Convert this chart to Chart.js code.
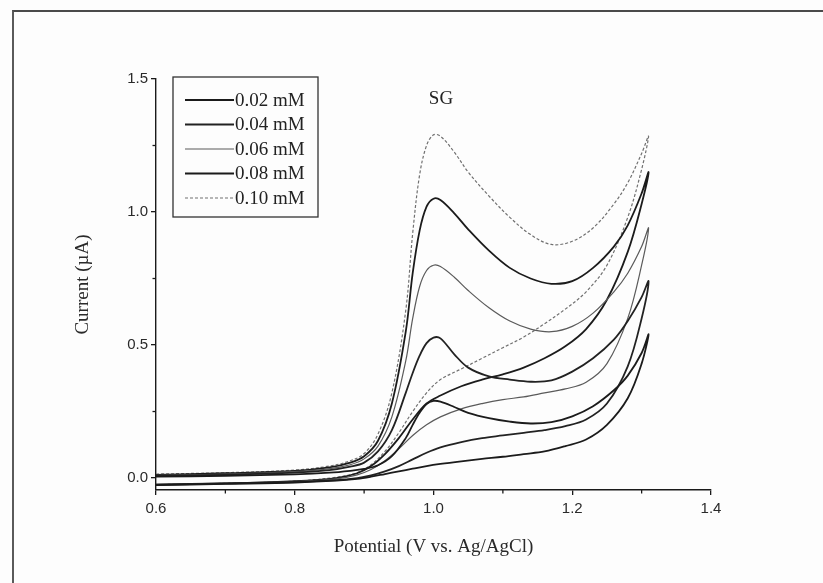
<!DOCTYPE html>
<html>
<head>
<meta charset="utf-8">
<script src="https://cdn.jsdelivr.net/npm/chart.js@4"></script>
<style>
  html, body { margin: 0; padding: 0; background: #ffffff; }
  #wrap { position: relative; width: 823px; height: 583px; overflow: hidden; background: #fdfdfd; }
  #frame { position: absolute; left: 12px; top: 10px; width: 830px; height: 600px;
           border-top: 2px solid #4a4a4a; border-left: 2px solid #5a5a5a; }
  canvas { position: absolute; left: 0; top: 0; }
</style>
</head>
<body>
<div id="wrap">
  <div id="frame"></div>
  <canvas id="c" width="823" height="583"></canvas>
</div>
<script>
// ---- Data ----
const seriesLabels = ["0.02 mM", "0.04 mM", "0.06 mM", "0.08 mM", "0.10 mM"];

// forward (anodic) scan potentials, V vs Ag/AgCl
const potentialFwd = [0.60, 0.70, 0.80, 0.85, 0.88, 0.90, 0.92, 0.94, 0.96, 0.97, 0.98, 0.99, 1.00, 1.01, 1.03, 1.05, 1.08, 1.11, 1.14, 1.17, 1.20, 1.23, 1.26, 1.28, 1.30, 1.31];
// reverse scan potentials
const potentialRev = [1.30, 1.28, 1.25, 1.22, 1.19, 1.16, 1.13, 1.10, 1.07, 1.04, 1.01, 0.99, 0.97, 0.95, 0.93, 0.91, 0.89, 0.86, 0.80, 0.70, 0.60];

// currents (µA), forward scans
const fwd002 = [0.005, 0.008, 0.014, 0.02, 0.027, 0.034, 0.048, 0.082, 0.15, 0.2, 0.245, 0.278, 0.29, 0.287, 0.267, 0.245, 0.225, 0.212, 0.205, 0.21, 0.232, 0.27, 0.33, 0.385, 0.47, 0.54];
const fwd004 = [0.008, 0.012, 0.02, 0.03, 0.043, 0.058, 0.10, 0.18, 0.32, 0.395, 0.46, 0.507, 0.528, 0.525, 0.465, 0.415, 0.382, 0.37, 0.362, 0.367, 0.40, 0.45, 0.52, 0.59, 0.68, 0.74];
const fwd006 = [0.01, 0.015, 0.024, 0.035, 0.05, 0.072, 0.12, 0.23, 0.44, 0.6, 0.72, 0.78, 0.80, 0.795, 0.755, 0.705, 0.64, 0.59, 0.56, 0.55, 0.57, 0.62, 0.70, 0.77, 0.87, 0.94];
const fwd008 = [0.012, 0.018, 0.027, 0.04, 0.058, 0.082, 0.14, 0.28, 0.55, 0.77, 0.93, 1.02, 1.05, 1.045, 0.995, 0.935, 0.855, 0.79, 0.75, 0.73, 0.74, 0.79, 0.87, 0.95, 1.07, 1.15];
const fwd010 = [0.015, 0.02, 0.03, 0.045, 0.065, 0.092, 0.165, 0.32, 0.63, 0.92, 1.14, 1.25, 1.29, 1.285, 1.225, 1.15, 1.06, 0.98, 0.915, 0.878, 0.89, 0.94, 1.03, 1.11, 1.22, 1.285];

// currents (µA), reverse scans
const rev002 = [0.43, 0.30, 0.20, 0.145, 0.12, 0.10, 0.09, 0.08, 0.072, 0.063, 0.053, 0.045, 0.035, 0.025, 0.015, 0.005, -0.003, -0.01, -0.017, -0.022, -0.027];
const rev004 = [0.60, 0.42, 0.28, 0.22, 0.195, 0.18, 0.17, 0.16, 0.15, 0.135, 0.115, 0.095, 0.07, 0.045, 0.025, 0.01, 0.0, -0.008, -0.015, -0.02, -0.025];
const rev006 = [0.80, 0.60, 0.43, 0.36, 0.335, 0.32, 0.305, 0.295, 0.28, 0.26, 0.23, 0.2, 0.16, 0.11, 0.065, 0.032, 0.012, -0.003, -0.013, -0.02, -0.025];
const rev008 = [1.03, 0.85, 0.67, 0.56, 0.495, 0.45, 0.415, 0.39, 0.37, 0.345, 0.31, 0.28, 0.22, 0.15, 0.09, 0.045, 0.018, 0.0, -0.012, -0.02, -0.025];
const rev010 = [1.16, 0.98, 0.80, 0.70, 0.635, 0.58, 0.53, 0.49, 0.45, 0.41, 0.37, 0.32, 0.25, 0.17, 0.10, 0.05, 0.02, 0.003, -0.012, -0.02, -0.025];

// tick values
const xMajorTicks = [0.6, 0.8, 1.0, 1.2, 1.4];
const xMinorTicks = [0.7, 0.9, 1.1, 1.3];
const yMajorTicks = [0.0, 0.5, 1.0, 1.5];
const yMinorTicks = [0.25, 0.75, 1.25];

// ---- Styles ----
const fwdSets = [fwd002, fwd004, fwd006, fwd008, fwd010];
const revSets = [rev002, rev004, rev006, rev008, rev010];
const lineColors = ["#1b1b1b", "#222222", "#5a5a5a", "#1b1b1b", "#707070"];
const lineWidths = [1.8, 1.8, 1.2, 1.8, 1.2];
const lineDashes = [[], [], [], [], [3, 2]];

function loop(fw, rv) {
  const pts = potentialFwd.map((v, i) => ({ x: v, y: fw[i] }));
  potentialRev.forEach((v, i) => pts.push({ x: v, y: rv[i] }));
  return pts;
}

const datasets = seriesLabels.map((lab, i) => ({
  label: lab,
  data: loop(fwdSets[i], revSets[i]),
  borderColor: lineColors[i],
  borderWidth: lineWidths[i],
  borderDash: lineDashes[i],
  showLine: true,
  pointRadius: 0,
  tension: 0.35,
  fill: false
}));

const serif = "'Liberation Serif', 'Times New Roman', serif";
const sans = "'Liberation Sans', Arial, sans-serif";

const extras = {
  id: 'extras',
  afterDraw(chart) {
    const ctx = chart.ctx;
    const xs = chart.scales.x, ys = chart.scales.y;
    ctx.save();
    ctx.strokeStyle = '#1a1a1a';
    ctx.lineWidth = 1.3;
    // minor ticks
    xMinorTicks.forEach(v => {
      const px = xs.getPixelForValue(v);
      ctx.beginPath(); ctx.moveTo(px, ys.bottom); ctx.lineTo(px, ys.bottom + 3.5); ctx.stroke();
    });
    yMinorTicks.forEach(v => {
      const py = ys.getPixelForValue(v);
      ctx.beginPath(); ctx.moveTo(xs.left, py); ctx.lineTo(xs.left - 3.5, py); ctx.stroke();
    });
    // SG label
    ctx.fillStyle = '#222';
    ctx.font = "19px " + serif;
    ctx.textAlign = 'center';
    ctx.textBaseline = 'middle';
    ctx.fillText('SG', 441, 99);
    // legend
    const bx = 173, by = 77, bw = 145, bh = 140;
    ctx.lineWidth = 1.3;
    ctx.strokeStyle = '#333';
    ctx.strokeRect(bx, by, bw, bh);
    const rows = [100, 124.5, 149, 173.5, 198];
    chart.data.datasets.forEach((ds, i) => {
      const y = rows[i];
      ctx.beginPath();
      ctx.strokeStyle = ds.borderColor;
      ctx.lineWidth = ds.borderWidth;
      ctx.setLineDash(ds.borderDash || []);
      ctx.moveTo(185, y); ctx.lineTo(234, y); ctx.stroke();
      ctx.setLineDash([]);
      ctx.fillStyle = '#222';
      ctx.textAlign = 'left';
      ctx.font = "19px " + serif;
      ctx.fillText(ds.label, 235, y + 1);
    });
    ctx.restore();
  }
};

new Chart(document.getElementById('c'), {
  type: 'scatter',
  data: { datasets },
  options: {
    responsive: false,
    animation: false,
    layout: { padding: { left: 0, top: 79, right: 112, bottom: 0 } },
    plugins: { legend: { display: false }, tooltip: { enabled: false } },
    scales: {
      x: {
        type: 'linear',
        min: 0.6, max: 1.4,
        afterBuildTicks: s => { s.ticks = xMajorTicks.map(v => ({ value: v })); },
        afterFit: s => { s.height = 93; },
        grid: { display: true, drawOnChartArea: false, drawTicks: true, tickLength: 5, color: '#1a1a1a', lineWidth: 1.3 },
        border: { display: true, color: '#1a1a1a', width: 1.4 },
        ticks: { color: '#2a2a2a', font: { family: sans, size: 15 }, padding: 5, maxRotation: 0,
                 callback: v => Number(v).toFixed(1) },
        title: { display: true, text: 'Potential (V vs. Ag/AgCl)', color: '#2a2a2a',
                 font: { family: serif, size: 19 }, padding: { top: 0, bottom: 25 } }
      },
      y: {
        type: 'linear',
        min: -0.045, max: 1.5,
        afterBuildTicks: s => { s.ticks = yMajorTicks.map(v => ({ value: v })); },
        afterFit: s => { s.width = 156; },
        grid: { display: true, drawOnChartArea: false, drawTicks: true, tickLength: 5, color: '#1a1a1a', lineWidth: 1.3 },
        border: { display: true, color: '#1a1a1a', width: 1.4 },
        ticks: { color: '#2a2a2a', font: { family: sans, size: 15 }, padding: 3,
                 callback: v => Number(v).toFixed(1) },
        title: { display: true, text: 'Current (µA)', color: '#2a2a2a',
                 font: { family: serif, size: 19 }, padding: { top: 72, bottom: 0 } }
      }
    }
  },
  plugins: [extras]
});
</script>
</body>
</html>
